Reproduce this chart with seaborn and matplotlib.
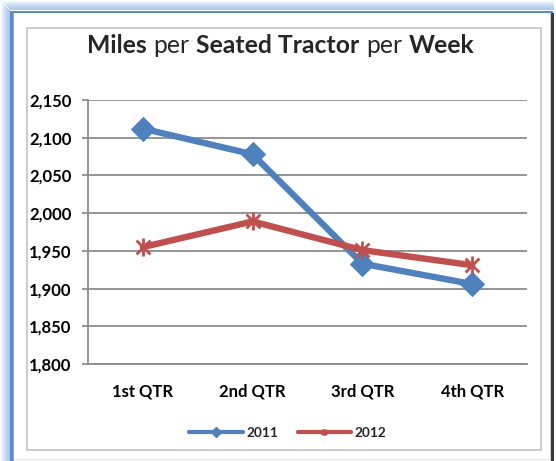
import matplotlib
matplotlib.use("Agg")
import matplotlib.pyplot as plt
from matplotlib.patches import Rectangle
from matplotlib.lines import Line2D
from matplotlib.path import Path
from matplotlib.ticker import FixedLocator, FuncFormatter
import numpy as np
import pandas as pd
import seaborn as sns

quarters = ["1st QTR", "2nd QTR", "3rd QTR", "4th QTR"]
miles_2011 = [2112, 2078, 1933, 1906]
miles_2012 = [1955, 1989, 1951, 1931]
y_ticks = [1800, 1850, 1900, 1950, 2000, 2050, 2100, 2150]
series_names = ["2011", "2012"]

BLUE = "#4F81BD"
RED = "#C0504D"
GRID = "#8C8C8C"
FONT = "Lato"

sns.set_theme(style="white")
plt.rcParams["font.family"] = [FONT, "DejaVu Sans"]

W, H = 556, 461
fig = plt.figure(figsize=(W / 100, H / 100), dpi=100)
fig.patch.set_facecolor("white")


def rect(x0, y0, x1, y1, color):
    fig.patches.append(Rectangle((x0 / W, 1 - y1 / H), (x1 - x0) / W, (y1 - y0) / H,
                                 transform=fig.transFigure, facecolor=color,
                                 edgecolor="none", lw=0, zorder=0))


def mix(c1, c2, t):
    a = np.array(matplotlib.colors.to_rgb(c1))
    b = np.array(matplotlib.colors.to_rgb(c2))
    return tuple(a + (b - a) * t)


# outer frame: blue glow left and top
for i in range(1, 10):
    t = (i - 1) / 8
    col = mix("#f4f8fd", "#a9c7ec", t ** 0.8)
    rect(i, i + 1, i + 1, H, col)          # left glow column
    rect(i + 1, i, W - 2, i + 1, col)      # top glow row
rect(10, 11, 12.5, H, "#5B8BC9")
rect(11, 11, W - 3, 13, "#5B8BC9")
rect(12.5, 13, 14, H, "#A6A6A6")
rect(551, 13, 554, H, "#3A3A3A")
rect(549.5, 13, 551, H, "#D0D0D0")
rect(14, 458.5, 549.5, 459.5, "#E6E6E6")

# inner box
fig.patches.append(Rectangle((27 / W, 1 - 450 / H), (541 - 27) / W, (450 - 28) / H,
                             transform=fig.transFigure, facecolor="none",
                             edgecolor="#C8C8C8", lw=1.3, zorder=1))

ax = fig.add_axes([88 / W, 1 - 364 / H, (527 - 88) / W, (364 - 100) / H])
ax.set_facecolor("none")

star = Path([(-1, -1), (1, 1), (-1, 1), (1, -1), (0, -1.3), (0, 1.3)],
            [Path.MOVETO, Path.LINETO, Path.MOVETO, Path.LINETO, Path.MOVETO, Path.LINETO])

df11 = pd.DataFrame({"quarter": quarters, "miles": miles_2011})
df12 = pd.DataFrame({"quarter": quarters, "miles": miles_2012})

sns.lineplot(data=df11, x="quarter", y="miles", ax=ax, color=BLUE, lw=4.6,
             marker="D", markersize=12.5, markeredgecolor=BLUE, markerfacecolor=BLUE,
             sort=False, zorder=3, legend=False)
sns.lineplot(data=df12, x="quarter", y="miles", ax=ax, color=RED, lw=4.6,
             marker=star, markersize=13, markeredgecolor=RED, markerfacecolor=RED,
             markeredgewidth=2.0, sort=False, zorder=4, legend=False)

ax.set_xlim(-0.5, 3.5)
ax.set_ylim(1800, 2150)
ax.set_yticks(y_ticks)
ax.yaxis.set_major_formatter(FuncFormatter(lambda v, p: f"{v:,.0f}"))
ax.set_xlabel("")
ax.set_ylabel("")

ax.grid(axis="y", color=GRID, lw=1.3)
ax.grid(axis="x", visible=False)
ax.set_axisbelow(True)
for s in ["top", "right"]:
    ax.spines[s].set_visible(False)
for s in ["left", "bottom"]:
    ax.spines[s].set_color(GRID)
    ax.spines[s].set_linewidth(1.3)

ax.xaxis.set_minor_locator(FixedLocator([-0.5, 0.5, 1.5, 2.5, 3.5]))
ax.tick_params(axis="x", which="major", length=0, pad=14, labelsize=12, labelcolor="black")
ax.tick_params(axis="x", which="minor", length=4.5, width=1.3, color=GRID, direction="out")
ax.tick_params(axis="y", which="major", length=4.5, width=1.3, color=GRID, direction="out",
               pad=7.5, labelsize=12, labelcolor="black", left=True)
for lab in ax.get_xticklabels() + ax.get_yticklabels():
    lab.set_fontweight("bold")
    lab.set_fontfamily(FONT)

# title with mixed weight
tsize = 17.8
pieces = [("Miles", "bold"), ("per", "normal"), ("Seated Tractor", "bold"),
          ("per", "normal"), ("Week", "bold")]
prev = fig.text(87 / W, 1 - 53 / H, pieces[0][0], fontsize=tsize, fontweight=pieces[0][1],
                ha="left", va="baseline", family=FONT)
for txt, wt in pieces[1:]:
    prev = ax.annotate(
        txt, xy=(1, 0), xycoords=prev, xytext=(4.8, 0), textcoords="offset points",
        fontsize=tsize, fontweight=wt, ha="left", va="bottom", family=FONT,
        annotation_clip=False)

handles = [Line2D([], [], color=BLUE, lw=3, marker="D", markersize=5.5),
           Line2D([], [], color=RED, lw=3, marker=star, markersize=5, mew=1.4)]
fig.legend(handles, series_names, loc="center", bbox_to_anchor=(288 / W, 1 - 433 / H),
           ncol=2, frameon=False, handlelength=3.9, handletextpad=0.3,
           columnspacing=1.4, prop={"family": FONT, "weight": "bold", "size": 9.8})

fig.savefig("out.png", dpi=100, facecolor="white")
